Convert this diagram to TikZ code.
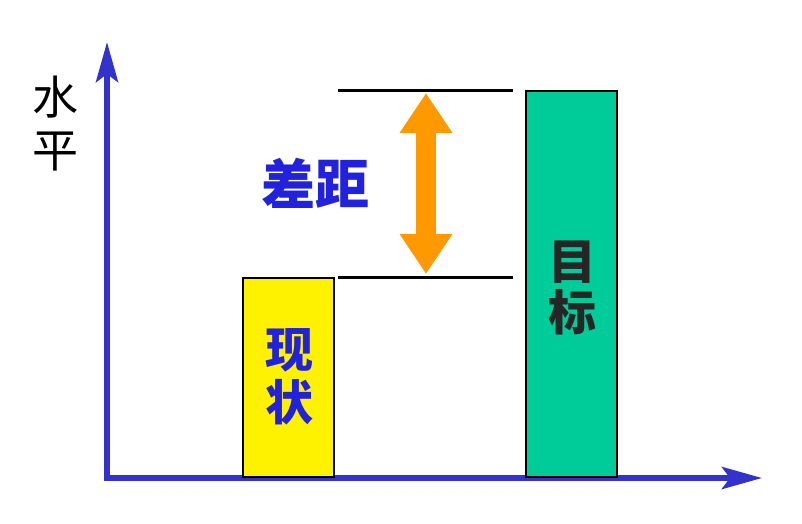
\documentclass[tikz,border=0pt]{standalone}
\usepackage{fontspec}
\newfontfamily\cjk{Noto Sans CJK SC}
\usetikzlibrary{arrows.meta}
\definecolor{axblue}{HTML}{3333CC}
\definecolor{tblue}{HTML}{2222DD}
\definecolor{gbar}{HTML}{00CC99}
\definecolor{obar}{HTML}{FF9900}
\begin{document}
\begin{tikzpicture}[x=1pt,y=-1pt,
  axis/.style={draw=axblue,line width=6pt,-{Stealth[length=40pt,width=22pt,inset=8pt]}},
  bar/.style={draw=black,line width=1.5pt},
  lvl/.style={draw=black,line width=3pt},
  lbl/.style={font=\cjk\fontsize{46}{50}\selectfont,inner sep=0pt}]
\useasboundingbox (0,0) rectangle (802,523);
\coordinate (o) at (107,478);
\coordinate (ytip) at (107,42);
\coordinate (xtip) at (762,478);
\draw[axis] (o) -- (ytip);
\draw[axis] ([xshift=-3pt]o) -- (xtip);
\node[bar,fill=yellow,minimum width=91pt,minimum height=199pt,inner sep=0pt,anchor=north west] (cur) at (242,277) {};
\node[bar,fill=gbar,minimum width=91pt,minimum height=386pt,inner sep=0pt,anchor=north west] (goal) at (525,90) {};
\coordinate (t1) at (338,90); \coordinate (t2) at (513,90);
\coordinate (b1) at (338,277); \coordinate (b2) at (513,277);
\draw[lvl] (t1) -- (t2);
\draw[lvl] (b1) -- (b2);
\coordinate (ga) at (426,93); \coordinate (gb) at (426,274);
\draw[obar,line width=20pt,{Triangle[length=40pt,width=50pt]}-{Triangle[length=40pt,width=50pt]}] (ga) -- (gb);
\node[lbl] (s1) at (55,97) {水};
\node[lbl] (s2) at (55,152) {平};
\node[lbl,text=tblue,font=\cjk\bfseries\fontsize{54}{58}\selectfont] (gap) at (315,183) {差距};
\node[lbl,text=tblue,font=\cjk\bfseries\fontsize{48}{52}\selectfont] (c1) at (289,350) {现};
\node[lbl,text=tblue,font=\cjk\bfseries\fontsize{48}{52}\selectfont] (c2) at (289,402) {状};
\node[lbl,text=black!85,font=\cjk\bfseries\fontsize{48}{52}\selectfont] (g1) at (572,262) {目};
\node[lbl,text=black!85,font=\cjk\bfseries\fontsize{48}{52}\selectfont] (g2) at (572,312) {标};
\end{tikzpicture}
\end{document}
